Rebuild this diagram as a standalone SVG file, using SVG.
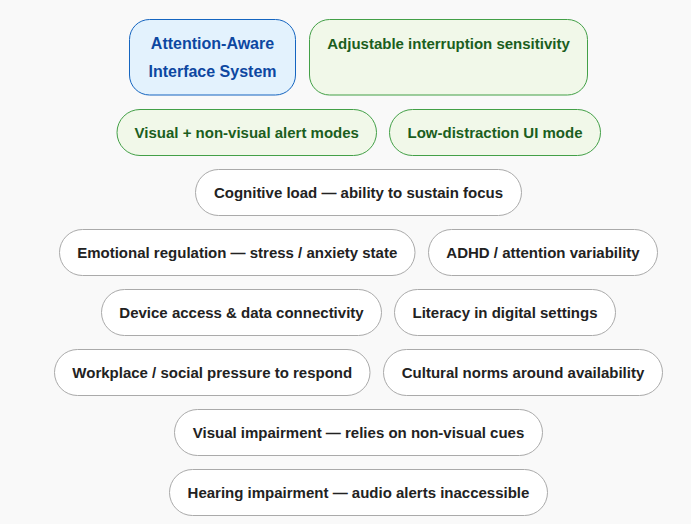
<svg xmlns="http://www.w3.org/2000/svg" width="691" height="524" viewBox="0 0 691 524">
<style>
  text { font-family: "Liberation Sans", Arial, sans-serif; font-weight: bold; font-size: 15px; text-anchor: middle; }
  .hub rect { fill: #e3f2fd; stroke: #1565c0; stroke-width: 1; }
  .hub text { fill: #0d47a1; font-size: 16px; }
  .feat rect { fill: #f1f8e9; stroke: #43a047; stroke-width: 1; }
  .feat text { fill: #1b5e20; }
  .fac rect { fill: #ffffff; stroke: #aaaaaa; stroke-width: 1; }
  .fac text { fill: #222222; }
</style>
<rect x="0" y="0" width="691" height="524" fill="#f9f9f9"/>
<g id="connectors"></g>
<g id="hub" class="hub">
  <rect x="129.5" y="19.5" width="166" height="75.5" rx="20"/>
  <text x="212.5" y="48.5">Attention-Aware</text>
  <text x="212.5" y="77">Interface System</text>
</g>
<g id="adjustable" class="feat">
  <rect x="309.5" y="19.5" width="278" height="75.5" rx="20"/>
  <text x="448.5" y="48.5">Adjustable interruption sensitivity</text>
</g>
<g id="alert-modes" class="feat">
  <rect x="117" y="109.5" width="259.5" height="46" rx="23"/>
  <text x="246.75" y="137.8">Visual + non-visual alert modes</text>
</g>
<g id="low-distraction" class="feat">
  <rect x="389.5" y="109.5" width="211" height="46" rx="23"/>
  <text x="495" y="137.8">Low-distraction UI mode</text>
</g>
<g id="cognitive" class="fac">
  <rect x="195.5" y="169.5" width="326" height="46" rx="23"/>
  <text x="358.5" y="197.8">Cognitive load — ability to sustain focus</text>
</g>
<g id="emotional" class="fac">
  <rect x="59.5" y="229.5" width="355.5" height="46" rx="23"/>
  <text x="237.25" y="257.8">Emotional regulation — stress / anxiety state</text>
</g>
<g id="adhd" class="fac">
  <rect x="428.5" y="229.5" width="229" height="46" rx="23"/>
  <text x="543" y="257.8">ADHD / attention variability</text>
</g>
<g id="device" class="fac">
  <rect x="101.5" y="289.5" width="280" height="46" rx="23"/>
  <text x="241.5" y="317.8">Device access &amp; data connectivity</text>
</g>
<g id="literacy" class="fac">
  <rect x="394.5" y="289.5" width="221" height="46" rx="23"/>
  <text x="505" y="317.8">Literacy in digital settings</text>
</g>
<g id="workplace" class="fac">
  <rect x="54.5" y="349.5" width="315.5" height="46" rx="23"/>
  <text x="212.25" y="377.8">Workplace / social pressure to respond</text>
</g>
<g id="cultural" class="fac">
  <rect x="383.5" y="349.5" width="279" height="46" rx="23"/>
  <text x="523" y="377.8">Cultural norms around availability</text>
</g>
<g id="visual-impairment" class="fac">
  <rect x="174.5" y="409.5" width="368" height="46" rx="23"/>
  <text x="358.5" y="437.8">Visual impairment — relies on non-visual cues</text>
</g>
<g id="hearing-impairment" class="fac">
  <rect x="169.5" y="469.5" width="378" height="46" rx="23"/>
  <text x="358.5" y="497.8">Hearing impairment — audio alerts inaccessible</text>
</g>
</svg>
